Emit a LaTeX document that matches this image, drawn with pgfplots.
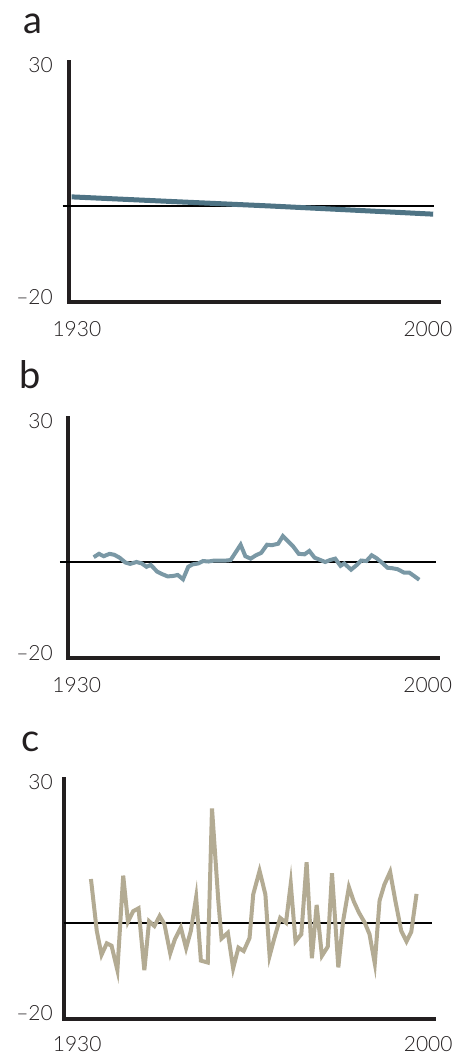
\documentclass[border=0pt]{standalone}
\usepackage{fontspec}
\setmainfont{Lato}
\newfontfamily\lightfont{Lato Light}
\usepackage{pgfplots}
\pgfplotsset{compat=1.18}

\definecolor{axiscol}{HTML}{231F20}
\definecolor{lineA}{HTML}{4E7384}
\definecolor{lineB}{HTML}{7A98A5}
\definecolor{lineC}{HTML}{B3AB93}

\pgfplotsset{
  panel/.style={
    scale only axis, width=370pt, height=240pt,
    xmin=1930, xmax=2000, ymin=-20, ymax=30,
    axis x line*=bottom, axis y line*=left,
    axis line style={-, line width=4pt, color=axiscol, line cap=rect},
    major tick length=0pt,
    clip=false,
    tick label style={font=\lightfont\fontsize{21}{25}\selectfont, color=axiscol, inner sep=0pt},
    xticklabels={1930,2000},
    ytick={29.4,-19}, yticklabels={30,–20},
    xticklabel style={anchor=center, yshift=-27pt},
    yticklabel style={anchor=east},
  },
  zero/.style={black, line width=2pt},
}

\begin{document}
\begin{tikzpicture}
\useasboundingbox (0,0) rectangle (456pt,1055pt);

% panel a
\node[anchor=base west, inner sep=0pt, font=\fontsize{38}{40}\selectfont, text=axiscol] at (23pt,1021pt) {a};
\begin{axis}[panel, at={(69.5pt,753pt)}, anchor=south west,
  xtick={1931.4,1997.8}, yticklabel style={xshift=-16.5pt}]
\addplot[zero] coordinates {(1928.7,0) (1999,0)};
\addplot[lineA, line width=5pt] coordinates {(1930.4,1.9) (1950,0.9) (1968,0) (1998.8,-1.7)};
\end{axis}

% panel b
\node[anchor=base west, inner sep=0pt, font=\fontsize{38}{40}\selectfont, text=axiscol] at (19pt,666pt) {b};
\begin{axis}[panel, at={(68.3pt,397pt)}, anchor=south west,
  xtick={1931.6,1998.0}, yticklabel style={xshift=-15.3pt}]
\addplot[zero] coordinates {(1928.4,0) (1999.5,0)};
\addplot[lineB, line width=4pt] coordinates {
(1934.8,1.0) (1935.8,1.7) (1936.7,1.2) (1937.8,1.7) (1938.7,1.5) (1939.7,0.9)
(1940.8,-0.1) (1941.7,-0.4) (1942.9,0.0) (1943.9,-0.3) (1944.8,-1.0) (1945.6,-0.6)
(1946.8,-2.0) (1947.7,-2.5) (1948.8,-3.0) (1949.9,-2.9) (1950.7,-2.7) (1951.7,-3.6)
(1952.7,-1.0) (1953.5,-0.5) (1954.6,-0.3) (1955.5,0.2) (1956.5,0.1) (1957.6,0.3)
(1958.7,0.3) (1959.8,0.3) (1960.7,0.4) (1961.6,1.9) (1962.6,3.6) (1963.5,1.2)
(1964.5,0.7) (1965.5,1.4) (1966.5,1.9) (1967.6,3.6) (1968.5,3.5) (1969.7,3.8)
(1970.6,5.4) (1971.6,4.3) (1972.5,3.3) (1973.6,1.7) (1974.7,1.6) (1975.6,2.3)
(1976.6,0.9) (1977.5,0.5) (1978.6,0.0) (1979.5,0.4) (1980.5,0.7) (1981.5,-0.8)
(1982.2,-0.3) (1983.5,-1.6) (1984.6,-0.6) (1985.4,0.3) (1986.4,0.2) (1987.4,1.4)
(1988.3,0.8) (1989.3,-0.1) (1990.4,-1.2) (1991.3,-1.3) (1992.3,-1.5) (1993.5,-2.2)
(1994.5,-2.2) (1995.4,-2.9) (1996.4,-3.7)};
\end{axis}

% panel c
\node[anchor=base west, inner sep=0pt, font=\fontsize{38}{40}\selectfont, text=axiscol] at (21pt,303pt) {c};
\begin{axis}[panel, at={(64pt,36.3pt)}, anchor=south west,
  xtick={1932.5,1998.9}, ytick={29.2,-18.9},
  yticklabel style={xshift=-11pt}, xticklabel style={yshift=2pt}]
\addplot[zero] coordinates {(1930,0) (1999.6,0)};
\addplot[lineC, line width=4pt] coordinates {
(1935.1,9.1) (1936.2,-1.7) (1937.1,-6.7) (1938.1,-4.3) (1939.0,-4.8) (1940.1,-9.9)
(1941.2,9.8) (1942.1,0.2) (1943.1,2.4) (1944.1,3.0) (1945.2,-9.9) (1946.1,0.3)
(1947.1,-0.7) (1948.1,1.4) (1949.0,-0.3) (1950.1,-6.4) (1951.0,-3.4) (1952.1,-1.0)
(1953.1,-5.3) (1954.0,-1.7) (1955.0,5.3) (1955.9,-7.9) (1957.2,-8.3) (1958.0,23.8)
(1959.2,4.5) (1959.8,-3.3) (1961.0,-2.1) (1962.0,-9.5) (1963.0,-5.2) (1964.0,-5.9)
(1965.1,-3.2) (1965.8,5.9) (1967.0,10.8) (1968.1,5.9) (1968.9,-6.9) (1969.8,-3.2)
(1970.9,1.0) (1972.0,0.0) (1972.9,8.1) (1973.8,-3.9) (1974.9,-2.4) (1975.9,12.6)
(1976.9,-7.4) (1977.8,3.7) (1978.8,-6.9) (1979.9,-5.0) (1980.7,10.3) (1981.9,-9.3)
(1982.8,0.3) (1983.9,7.4) (1984.8,4.5) (1985.8,2.1) (1986.9,0.0) (1987.8,-2.4)
(1988.8,-8.5) (1989.7,4.6) (1990.6,7.9) (1991.7,10.6) (1992.7,4.5) (1993.8,-1.7)
(1994.8,-3.9) (1995.7,-1.9) (1996.7,6.0)};
\end{axis}
\end{tikzpicture}
\end{document}
